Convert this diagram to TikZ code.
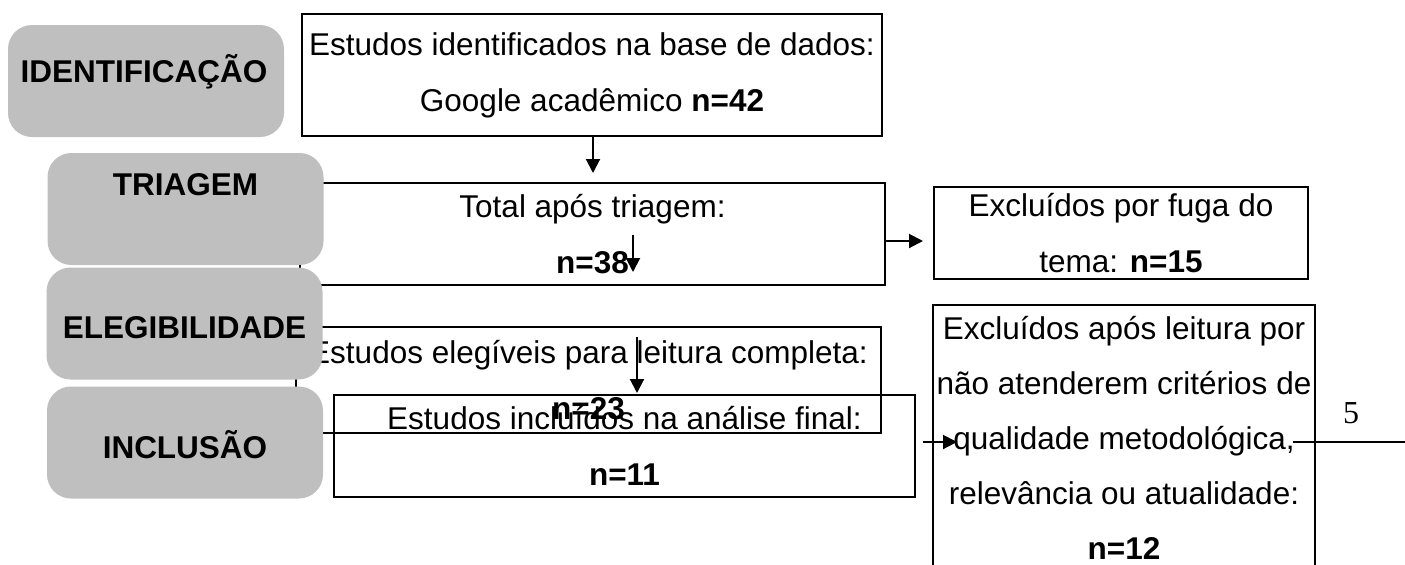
\documentclass[tikz,border=0pt]{standalone}
\usepackage{fontspec}
\setmainfont{Liberation Sans}
\newfontfamily\pagefont{Liberation Serif}
\usepackage{tikz}
\usetikzlibrary{arrows.meta}
\definecolor{phasegray}{RGB}{191,191,191}

\begin{document}
\begin{tikzpicture}[x=0.5pt, y=-0.5pt,
    font=\fontsize{15.75pt}{28pt}\selectfont,
    box/.style={draw, line width=1pt, align=center, inner sep=2pt},
    phase/.style={fill=phasegray, rounded corners=12pt, minimum width=138pt, minimum height=56pt, inner sep=0pt},
    phasetxt/.style={font=\fontsize{15.75pt}{18pt}\selectfont\bfseries},
    arr/.style={line width=1pt, -{Triangle[length=7pt, width=7pt]}}]
    \useasboundingbox (0,0) rectangle (1405,564);

    % caixas do fluxo
    \node[box, minimum width=290pt, minimum height=61pt] (b1) at (592,75) {Estudos identificados na base de dados:\\Google acadêmico \textbf{n=42}};
    \node[box, minimum width=292.5pt, minimum height=51pt] (b2) at (592.5,234) {Total após triagem:\\\textbf{n=38}};
    \node[box, minimum width=292.5pt, minimum height=53pt] (b3) at (588.5,380) {Estudos elegíveis para leitura completa:\\\textbf{n=23}};
    \node[box, minimum width=290.5pt, minimum height=51pt] (b4) at (624.5,446) {Estudos incluídos na análise final:\\\textbf{n=11}};
    \node[box, minimum width=187pt, minimum height=46pt] (b5) at (1121,233) {Excluídos por fuga do\\tema: \textbf{n=15}};
    \node[box, minimum width=191pt, minimum height=132.5pt, font=\fontsize{15.75pt}{27.5pt}\selectfont] (b6) at (1124,437.5) {Excluídos após leitura por\\não atenderem critérios de\\qualidade metodológica,\\relevância ou atualidade:\\\textbf{n=12}};

    % setas
    \coordinate (t1) at (593,173);
    \draw[arr] (b1.south -| t1) -- (t1);
    \coordinate (s2) at (633,235);
    \coordinate (t2) at (633,272);
    \draw[arr] (s2) -- (t2);
    \coordinate (s3) at (637,337);
    \coordinate (t3) at (637,393);
    \draw[arr] (s3) -- (t3);
    \coordinate (t4) at (923,241);
    \draw[arr] (b2.east |- t4) -- (t4);
    \coordinate (s5) at (923,442);
    \coordinate (t5) at (957,442);
    \draw[arr] (s5) -- (t5);
    \coordinate (s6) at (1293,442);
    \coordinate (e6) at (1405,442);
    \draw[line width=1pt] (s6) -- (e6);

    \node[font=\pagefont\fontsize{16pt}{18pt}\selectfont] (pg) at (1351,413) {5};

    % fases
    \node[phase, label={[name=g1t, phasetxt, xshift=-1pt, yshift=4.5pt]center:IDENTIFICAÇÃO}] (g1) at (146,81) {};
    \node[phase, label={[name=g2t, phasetxt, yshift=12pt]center:TRIAGEM}] (g2) at (185.5,209) {};
    \node[phase, label={[name=g3t, phasetxt, yshift=-2.25pt]center:ELEGIBILIDADE}] (g3) at (184.5,323.5) {};
    \node[phase, label={[name=g4t, phasetxt, yshift=-1.25pt]center:INCLUSÃO}] (g4) at (185,442.5) {};
\end{tikzpicture}
\end{document}
